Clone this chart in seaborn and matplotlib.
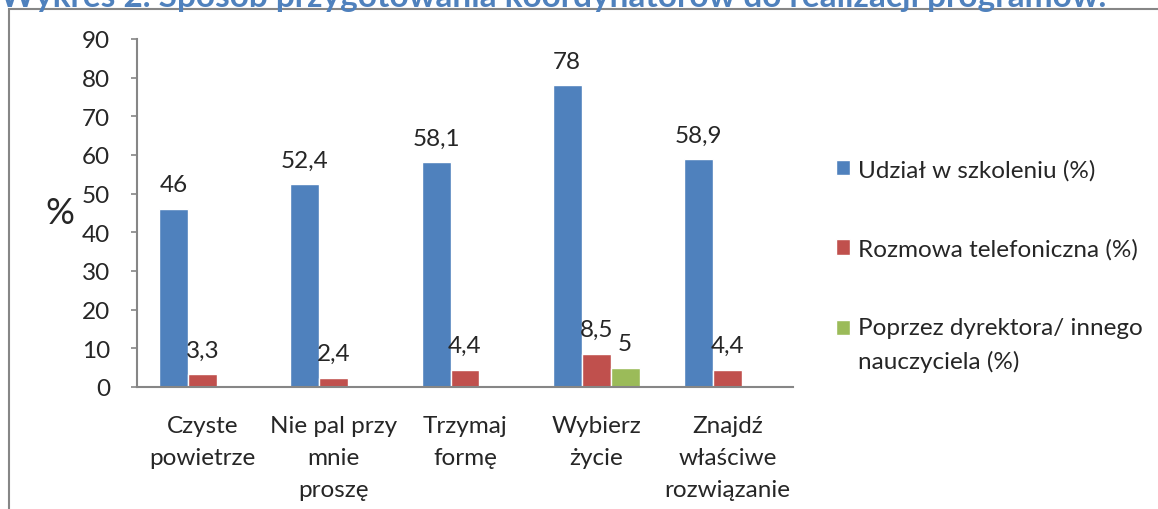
import matplotlib
matplotlib.use('Agg')
import matplotlib.pyplot as plt
from matplotlib.patches import Rectangle
import numpy as np
import pandas as pd
import seaborn as sns

# data
programs = ['Czyste\npowietrze', 'Nie pal przy\nmnie\nproszę', 'Trzymaj\nformę',
            'Wybierz\nżycie', 'Znajdź\nwłaściwe\nrozwiązanie']
methods = ['Udział w szkoleniu (%)', 'Rozmowa telefoniczna (%)',
           'Poprzez dyrektora/ innego\nnauczyciela (%)']
training = [46, 52.4, 58.1, 78, 58.9]
phone = [3.3, 2.4, 4.4, 8.5, 4.4]
director = [np.nan, np.nan, np.nan, 5, np.nan]
yticks = list(range(0, 100, 10))
colors = ['#4F81BD', '#C0504D', '#9BBB59']
title = 'Wykres 2. Sposób przygotowania koordynatorów do realizacji programów.'

df = pd.DataFrame({
    'program': programs * 3,
    'method': [m for m in methods for _ in programs],
    'value': training + phone + director,
}).dropna()

sns.set_style('ticks')
plt.rcParams['font.family'] = ['Lato', 'DejaVu Sans']
fs = 17.5

W, H = 1158, 510
fig = plt.figure(figsize=(W / 100, H / 100), dpi=100)
ax = fig.add_axes([137 / W, 1 - 388 / H, (793 - 137) / W, (388 - 40) / H])

sns.barplot(data=df, x='program', y='value', hue='method', order=programs,
            hue_order=methods, palette=colors, saturation=1, width=0.663,
            errorbar=None, legend=False, ax=ax)

for c in ax.containers:
    labels = [f'{v:g}'.replace('.', ',') for v in c.datavalues]
    ax.bar_label(c, labels=labels, padding=10, fontsize=fs)

gray = '#868686'
ax.set_ylim(0, 90)
ax.set_yticks(yticks)
ax.set_xlim(-0.5, len(programs) - 0.5)
ax.set_xticks(range(len(programs)))
ax.set_xticklabels(programs, linespacing=1.65)
ax.set_xlabel('')
ax.set_ylabel('')
for s in ['top', 'right']:
    ax.spines[s].set_visible(False)
for s in ['left', 'bottom']:
    ax.spines[s].set_color(gray)
    ax.spines[s].set_linewidth(1.5)
ax.tick_params(axis='y', direction='out', length=4.5, width=1.2, color=gray,
               pad=15, labelsize=fs)
ax.tick_params(axis='x', length=0, pad=20, labelsize=fs)

fig.text(60 / W, 1 - 214 / H, '%', fontsize=26, ha='center', va='center')

handles = list(ax.containers)
leg = ax.legend(handles, methods, loc='upper left',
                bbox_to_anchor=(836 / W, 1 - 160 / H), bbox_transform=fig.transFigure,
                frameon=False, fontsize=fs, handlelength=0.58, handleheight=0.58,
                handletextpad=0.33, labelspacing=2.37, borderpad=0, borderaxespad=0)
for t in leg.texts:
    t.set_linespacing(1.65)
# put the square of the wrapped entry next to its first line, as Excel does
h3 = leg.legend_handles[2]
h3.set_y(h3.get_y() + 12)

fig.text(0, 1 - 7 / H, title, fontsize=24, fontweight='bold', color='#4F81BD',
         ha='left', va='baseline')
fig.add_artist(Rectangle((9 / W, -0.1), 1.2, 1.1 - 10 / H, transform=fig.transFigure,
                         fill=False, edgecolor=gray, linewidth=1.5, clip_on=False))

fig.savefig('out.png', dpi=100)
